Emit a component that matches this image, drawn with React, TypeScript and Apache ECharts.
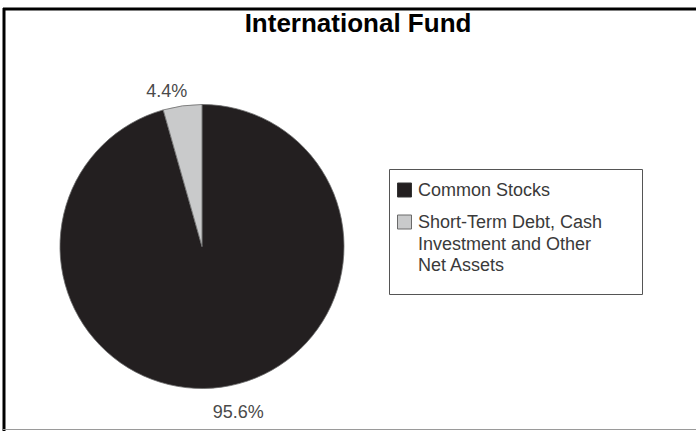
import React, { useEffect, useRef } from "react";
import * as echarts from "echarts";

const titleText = "International Fund";
const categories = ["Common Stocks", "Short-Term Debt, Cash Investment and Other Net Assets"];
const legendLabels = ["Common Stocks", "Short-Term Debt, Cash\nInvestment and Other\nNet Assets"];
const values = [95.6, 4.4];
const colors = ["#231f20", "#c9cacb"];
const iconBorders = ["#333333", "#6a6a6a"];

export default function App() {
  const ref = useRef<HTMLDivElement>(null);
  useEffect(() => {
    document.body.style.margin = "0";
    const chart = echarts.init(ref.current!, null, { renderer: "svg" });
    const font = "Arial, 'Liberation Sans', Helvetica, sans-serif";
    const legendY = [190, 222];
    const labelShift = [
      { dx: -16, dy: 10 },
      { dx: 12, dy: 0 },
    ];
    const option: any = {
      animation: false,
      backgroundColor: "#ffffff",
      title: {
        text: titleText,
        left: 353,
        top: 5,
        textAlign: "center",
        textStyle: { fontFamily: font, fontWeight: "bold", fontSize: 26, color: "#000" },
      },
      series: [
        {
          type: "pie",
          center: [202, 246.5],
          radius: 142,
          startAngle: 90,
          clockwise: true,
          silent: true,
          data: categories.map((name, i) => ({
            name,
            value: values[i],
            itemStyle: { color: colors[i] },
          })),
          itemStyle: { borderColor: "#6b6b6b", borderWidth: 0.8 },
          label: {
            show: true,
            position: "outside",
            formatter: (p: any) => p.value.toFixed(1) + "%",
            fontFamily: font,
            fontSize: 18,
            color: "#4a4a4a",
          },
          labelLine: { show: false, length: 15, length2: 0 },
          labelLayout: (p: any) => labelShift[p.dataIndex],
        },
      ],
      graphic: [
        { type: "line", shape: { x1: 3, y1: 9, x2: 696, y2: 9 }, style: { stroke: "#000", lineWidth: 3 } },
        { type: "line", shape: { x1: 4, y1: 8, x2: 4, y2: 431 }, style: { stroke: "#000", lineWidth: 3 } },
        { type: "line", shape: { x1: 3, y1: 429.5, x2: 696, y2: 429.5 }, style: { stroke: "#9a9a9a", lineWidth: 1 } },
        {
          type: "rect",
          shape: { x: 389.5, y: 169.5, width: 253, height: 125 },
          style: { fill: "#fff", stroke: "#555", lineWidth: 1 },
        },
        ...legendLabels.flatMap((lab, i) => [
          {
            type: "rect",
            shape: { x: 397.5, y: legendY[i] - 7, width: 14, height: 14 },
            style: { fill: colors[i], stroke: iconBorders[i], lineWidth: 1 },
          },
          {
            type: "text",
            x: 418,
            y: legendY[i] - 10.75,
            style: {
              text: lab,
              fontFamily: font,
              fontSize: 18,
              lineHeight: 21.5,
              fill: "#3a3a3a",
              verticalAlign: "top",
            },
          },
        ]),
      ],
    };
    chart.setOption(option);
    return () => chart.dispose();
  }, []);
  return <div ref={ref} style={{ position: "absolute", left: 0, top: 0, width: 696, height: 431 }} />;
}
